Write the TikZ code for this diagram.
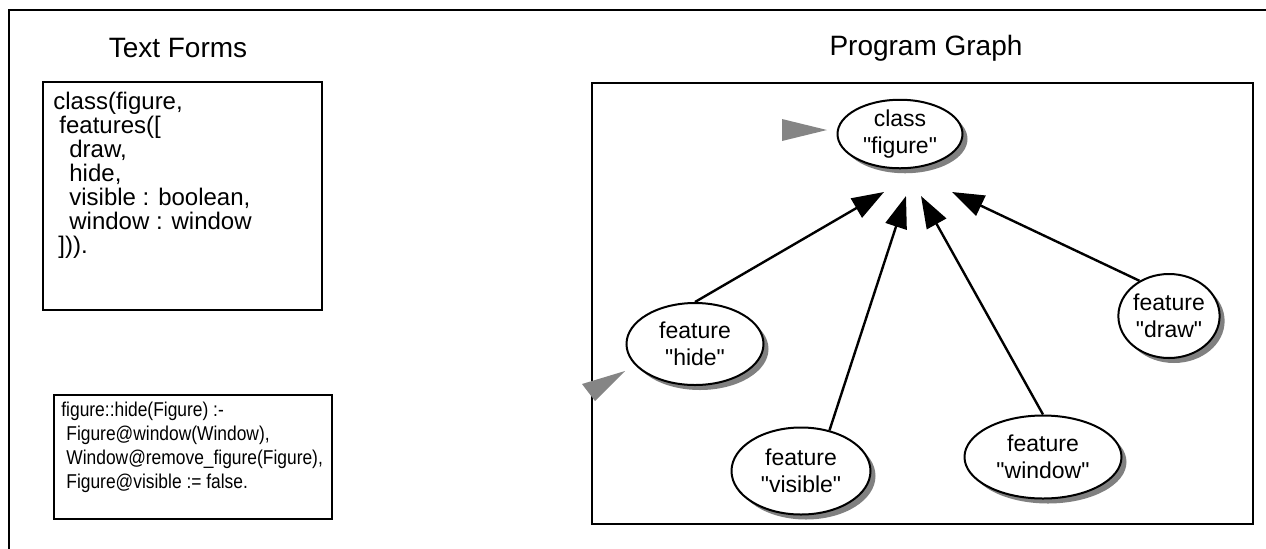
\documentclass[tikz,border=0pt]{standalone}
\usepackage{fontspec}
\setmainfont{Liberation Sans}
\newfontfamily\narrowcode[FakeStretch=0.87]{Liberation Sans}
\usetikzlibrary{arrows.meta,shapes.geometric,shadows}

\newcommand{\qt}[1]{\textquotedbl#1\textquotedbl}

\begin{document}
\begin{tikzpicture}[x=0.5pt,y=-0.5pt,
  frame/.style={line width=1.3pt},
  code/.style={anchor=north west,align=left,inner sep=0pt},
  title/.style={font=\fontsize{14}{16}\selectfont},
  obj/.style={ellipse,draw,line width=1pt,fill=white,align=center,inner sep=0pt,
    font=\fontsize{11.5}{13.5}\selectfont,
    drop shadow={shadow xshift=2.5pt,shadow yshift=-2.5pt,opacity=1,fill=black!50}},
  link/.style={line width=1.2pt,-{Triangle[length=16pt,width=11pt]}},
  pointer/.style={fill=black!48}]
\useasboundingbox (0,0) rectangle (1266,548);
\draw[frame] (9,560) -- (9,10) -- (1280,10);
\node[title] (formstitle) at (178,48) {Text Forms};
\node[title] (graphtitle) at (926,48) {Program Graph};
\draw[frame] (43,82) rectangle (322,310);
\node[code,font=\fontsize{12}{12}\selectfont] (classtext) at (53,92) {class(figure,\\
\hspace*{3pt}features([\\
\hspace*{8pt}draw,\\
\hspace*{8pt}hide,\\
\hspace*{8pt}visible : boolean,\\
\hspace*{8pt}window : window\\
\hspace*{2.5pt}])).};
\draw[frame] (54,395) rectangle (332,519);
\node[code,font=\narrowcode\fontsize{10}{12}\selectfont] (hidetext) at (61,402) {figure::hide(Figure) :-\\
\hspace*{2.5pt}Figure@window(Window),\\
\hspace*{2.5pt}Window@remove\_figure(Figure),\\
\hspace*{2.5pt}Figure@visible := false.};
\draw[frame] (592,83) rectangle (1253,524);
\node[obj,minimum width=62.5pt,minimum height=32pt] (class) at (900,134) {class\\\qt{figure}};
\node[obj,minimum width=68.5pt,minimum height=41pt] (hide) at (695,344) {feature\\\qt{hide}};
\node[obj,minimum width=69.5pt,minimum height=43.5pt] (visible) at (801,471) {feature\\\qt{visible}};
\node[obj,minimum width=78.5pt,minimum height=41.5pt] (window) at (1043,457) {feature\\\qt{window}};
\node[obj,minimum width=47pt,minimum height=42pt] (draw) at (1169,316) {feature\\\qt{draw}};
\coordinate (inhide) at (884,192);
\coordinate (invisible) at (906,196);
\coordinate (inwindow) at (921,196);
\coordinate (indraw) at (952,192);
\draw[link] (hide.north) -- (inhide);
\draw[link] (visible.55) -- (invisible);
\draw[link] (window.north) -- (inwindow);
\draw[link] (draw.130) -- (indraw);
\fill[pointer] (782,119) -- (827,130) -- (782,141) -- cycle;
\fill[pointer] (582,384) -- (625,371) -- (595,401) -- cycle;
\end{tikzpicture}
\end{document}
